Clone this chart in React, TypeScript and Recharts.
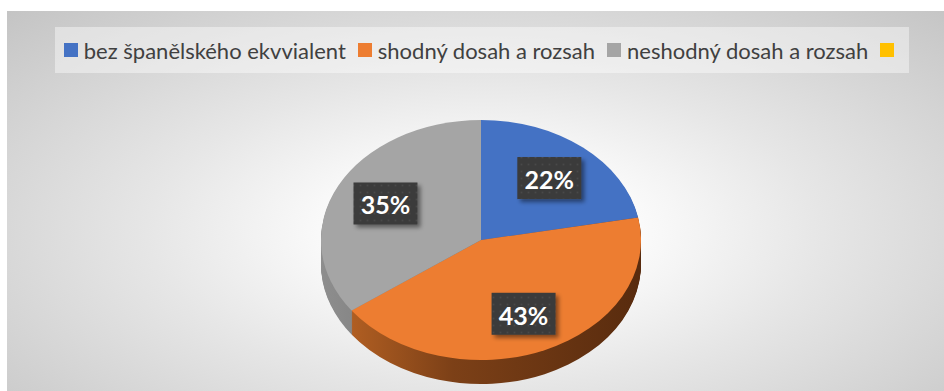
import React from "react";
import { PieChart, Pie, Cell, Legend } from "recharts";

const categories = [
  "bez španělského ekvvialent",
  "shodný dosah a rozsah",
  "neshodný dosah a rozsah",
  "",
];
const shares = [22, 43, 35, 0];
const topColors = ["#4472c4", "#ed7d31", "#a5a5a5", "#ffc000"];
const sideColors = ["url(#sideBlue)", "url(#sideOrange)", "url(#sideGrey)", "#bf9000"];

const data = categories.map((name, i) => ({ name, value: shares[i] }));

const W = 944;
const H = 391;
const CX = 481;
const CY = 240;
const R = 160;
const TILT = 0.75;
const DEPTH = 24;
// side wall layers, deepest first
const layers = Array.from({ length: DEPTH }, (_, i) => DEPTH - i);

const renderLabel = (p: any) => {
  if (!p.value) return <g />;
  const rad = Math.PI / 180;
  const r = p.outerRadius * 0.67;
  const x = p.cx + r * Math.cos(-p.midAngle * rad);
  const y = p.cy + r * Math.sin(-p.midAngle * rad) * TILT;
  return (
    <g>
      <rect x={x - 32} y={y - 21} width={64} height={42} fill="url(#dots)" filter="url(#lblShadow)" />
      <text
        x={x}
        y={y + 1}
        textAnchor="middle"
        dominantBaseline="central"
        fill="#ffffff"
        fontSize={25}
        fontWeight={700}
        fontFamily="Lato"
      >
        {`${p.value}%`}
      </text>
    </g>
  );
};

// legend is drawn from the category list (side layers would otherwise repeat it)
const renderLegend = () => (
  <div
    style={{
      display: "flex",
      justifyContent: "center",
      alignItems: "center",
      height: "100%",
      background: "rgba(255,255,255,0.42)",
      fontFamily: "Lato",
      fontSize: 22,
      color: "#404040",
      whiteSpace: "nowrap",
    }}
  >
    {categories.map((name, i) => (
      <span key={i} style={{ display: "flex", alignItems: "center", marginRight: i < 3 ? 12 : 0 }}>
        <span style={{ width: 14, height: 14, background: topColors[i], marginRight: 6 }} />
        <span>{name}</span>
      </span>
    ))}
  </div>
);

export default function App() {
  return (
    <div style={{ position: "relative", width: W, height: H, background: "#fff", overflow: "hidden" }}>
      <style>{`body{margin:0} .recharts-sector{transform:scaleY(${TILT});transform-origin:${CX}px ${CY}px}`}</style>
      <div
        style={{
          position: "absolute",
          left: 7,
          top: 11,
          right: 0,
          bottom: 0,
          background:
            "radial-gradient(ellipse farthest-corner at 51% 58%, #ffffff 0%, #fbfbfb 22%, #e6e6e6 50%, #c4c4c4 100%)",
        }}
      />
      <div style={{ position: "absolute", left: 0, top: 0 }}>
        <PieChart width={W} height={H} margin={{ top: 0, right: 0, bottom: 0, left: 0 }}>
          <defs>
            <linearGradient id="sideOrange" x1="0" y1="0" x2="1" y2="0">
              <stop offset="0%" stopColor="#b05e22" />
              <stop offset="35%" stopColor="#7c4017" />
              <stop offset="100%" stopColor="#582b0e" />
            </linearGradient>
            <linearGradient id="sideGrey" x1="0" y1="0" x2="1" y2="0">
              <stop offset="0%" stopColor="#8e8e8e" />
              <stop offset="100%" stopColor="#6a6a6a" />
            </linearGradient>
            <linearGradient id="sideBlue" x1="0" y1="0" x2="1" y2="0">
              <stop offset="0%" stopColor="#2f5597" />
              <stop offset="100%" stopColor="#203864" />
            </linearGradient>
            <pattern id="dots" width="7" height="7" patternUnits="userSpaceOnUse">
              <rect width="7" height="7" fill="#3a3a3a" />
              <circle cx="3.5" cy="3.5" r="1" fill="#4a4a4a" />
            </pattern>
            <filter id="lblShadow" x="-20%" y="-20%" width="150%" height="160%">
              <feDropShadow dx="3" dy="3" stdDeviation="2" floodColor="#000" floodOpacity="0.45" />
            </filter>
          </defs>
          <Legend
            layout="horizontal"
            verticalAlign="middle"
            align="center"
            content={renderLegend}
            wrapperStyle={{ position: "absolute", top: 27, left: 55, width: 854, height: 46 }}
          />
          {layers.map((d) => (
            <Pie
              key={d}
              data={data}
              dataKey="value"
              nameKey="name"
              cx={CX}
              cy={CY + d / TILT}
              outerRadius={R}
              startAngle={90}
              endAngle={-270}
              stroke="none"
              legendType="none"
              label={false}
              labelLine={false}
              isAnimationActive={false}
            >
              {data.map((_, i) => (
                <Cell key={i} fill={sideColors[i]} />
              ))}
            </Pie>
          ))}
          <Pie
            data={data}
            dataKey="value"
            nameKey="name"
            cx={CX}
            cy={CY}
            outerRadius={R}
            startAngle={90}
            endAngle={-270}
            stroke="none"
            label={renderLabel}
            labelLine={false}
            isAnimationActive={false}
          >
            {data.map((_, i) => (
              <Cell key={i} fill={topColors[i]} />
            ))}
          </Pie>
        </PieChart>
      </div>
    </div>
  );
}
